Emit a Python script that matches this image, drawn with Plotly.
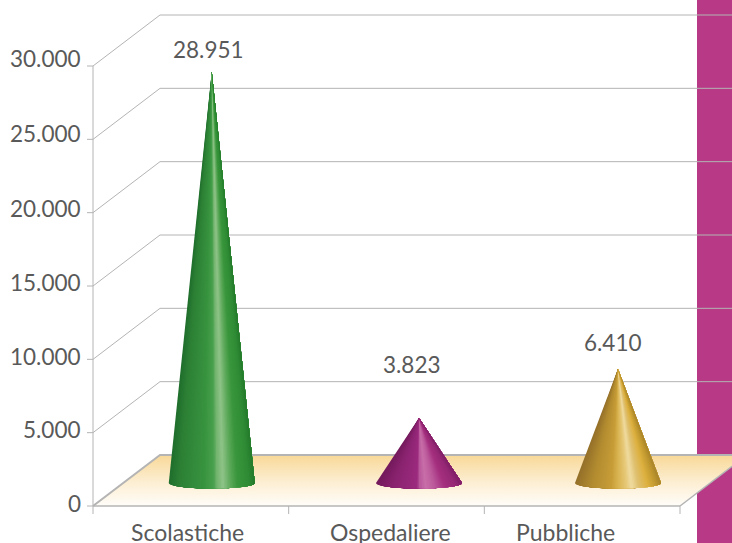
import math
import plotly.graph_objects as go

# ---- data ----
categories = ["Scolastiche", "Ospedaliere", "Pubbliche"]
value_labels = ["28.951", "3.823", "6.410"]
cone_tops = [29590, 6000, 9341]          # apex heights as read against the value axis
tick_values = [0, 5000, 10000, 15000, 20000, 25000, 30000]
tick_labels = ["0", "5.000", "10.000", "15.000", "20.000", "25.000", "30.000"]

# ---- geometry, in axis units ----
PX_X = 587 / 3          # pixels per category
PX_Y = 440 / 30000      # pixels per value unit
DEPTH_X = 67 / PX_X
DEPTH_Y = 51 / PX_Y
X_MIN, X_MAX = -0.5, 2.5
VIEW_X = [X_MIN - 93 / PX_X, X_MAX + 52 / PX_X]
VIEW_Y = [-37 / PX_Y, 506 / PX_Y]
cone_x = [0.107, 1.166, 2.183]
cone_base = 1568
cone_a = 43 / PX_X
cone_b = 5.5 / PX_Y
label_lift = [3, 3, 3, 3.5, 4.5, 6, 8]

GRID = "#B4B4B4"
TEXT = "#595959"
FONT = "Lato"

# shading stops: (position across the cone, colour)
shades = [
    [(0, "#1F6E2C"), (.12, "#2C8035"), (.4, "#38933F"), (.52, "#47A04C"), (.56, "#72B46E"),
     (.63, "#8FC388"), (.72, "#5CA95A"), (.8, "#3A963C"), (.93, "#2F8C35"), (1, "#237A2B")],
    [(0, "#741A5C"), (.2, "#8A2370"), (.48, "#9C2B7E"), (.5, "#B8559A"), (.58, "#C86EA8"),
     (.68, "#BC5A9C"), (.8, "#A5307F"), (.93, "#962876"), (1, "#7F1F66")],
    [(0, "#94702A"), (.2, "#B38C30"), (.42, "#C79D38"), (.5, "#D9B350"), (.6, "#E6C878"),
     (.66, "#EFDBA0"), (.74, "#DFC070"), (.85, "#DDB03E"), (.95, "#BE962E"), (1, "#A8842A")],
]


def mix(stops, f):
    for (p0, c0), (p1, c1) in zip(stops, stops[1:]):
        if f <= p1:
            t = (f - p0) / (p1 - p0)
            rgb = [round(int(c0[i:i + 2], 16) * (1 - t) + int(c1[i:i + 2], 16) * t) for i in (1, 3, 5)]
            return "rgb(%d,%d,%d)" % tuple(rgb)
    return stops[-1][1]


fig = go.Figure()


def poly(xs, ys, **kw):
    fig.add_trace(go.Scatter(x=xs, y=ys, mode="lines", fill="toself", line=dict(width=0, simplify=False),
                             hoverinfo="skip", showlegend=False, **kw))


def line(xs, ys, width=1):
    fig.add_trace(go.Scatter(x=xs, y=ys, mode="lines", line=dict(color=GRID, width=width),
                             hoverinfo="skip", showlegend=False))


# magenta band on the right
band_l = X_MIN + 604 / PX_X
poly([band_l, VIEW_X[1], VIEW_X[1], band_l], [VIEW_Y[0], VIEW_Y[0], VIEW_Y[1], VIEW_Y[1]], fillcolor="#B83A86")

# floor
floor_r = X_MAX + DEPTH_X
poly([X_MIN, X_MAX, VIEW_X[1], VIEW_X[1], X_MIN + DEPTH_X, X_MIN],
     [0, 0, DEPTH_Y * (VIEW_X[1] - X_MAX) / DEPTH_X, DEPTH_Y, DEPTH_Y, 0],
     fillgradient=dict(type="vertical",
                       colorscale=[[0, "#FFFDF9"], [0.5, "#FCEDCF"], [1, "#F8D897"]]))

# walls
for v in tick_values:
    line([X_MIN, X_MIN + DEPTH_X, VIEW_X[1]], [v, v + DEPTH_Y, v + DEPTH_Y],
         width=2 if v == 0 else 1)
    line([X_MIN - 6 / PX_X, X_MIN], [v, v])
line([X_MIN, X_MIN], [0, 30000])
line([X_MIN, X_MAX], [0, 0], width=1.5)
line([X_MAX, VIEW_X[1]], [0, DEPTH_Y * (VIEW_X[1] - X_MAX) / DEPTH_X], width=1.5)
for xt in [-.5, .5, 1.5, 2.5]:
    line([xt, xt], [0, -8 / PX_Y])

# cones: each slice runs apex -> remaining base arc, painted left to right
N = 56
for cx, top, stops in zip(cone_x, cone_tops, shades):
    for i in range(N):
        f = i / N
        t0 = math.acos(1 - 2 * f)
        arc = [t0 + (math.pi - t0) * k / 24 for k in range(25)]
        xs = [cx] + [cx - cone_a * math.cos(t) for t in arc] + [cx]
        ys = [top] + [cone_base - cone_b * math.sin(t) for t in arc] + [top]
        poly(xs, ys, fillcolor=mix(stops, (i + .5) / N))

annotations = []
num_font = dict(family=FONT, size=22.5, color=TEXT)
# value-axis labels
for v, lab, lift in zip(tick_values, tick_labels, label_lift):
    annotations.append(dict(x=X_MIN, y=v, text=lab, xanchor="right", yanchor="middle", font=num_font,
                            xshift=-10, yshift=lift, showarrow=False))
# category labels
for xp, lab in zip([187, 390, 565], categories):
    annotations.append(dict(x=X_MIN + (xp - 93) / PX_X, y=0, text=lab, xanchor="center", yanchor="middle",
                            font=dict(family=FONT, size=23, color=TEXT), yshift=-26, showarrow=False))
# value labels over the cones
for cx, top, lab, sx, sy in zip(cone_x, cone_tops, value_labels, [-3, -7, -5], [23, 54, 27]):
    annotations.append(dict(x=cx, y=top, text=lab, xanchor="center", yanchor="middle", font=num_font,
                            xshift=sx, yshift=sy, showarrow=False))

fig.update_layout(
    width=732, height=543, autosize=False, showlegend=False,
    margin=dict(l=0, r=0, t=0, b=0, pad=0),
    paper_bgcolor="white", plot_bgcolor="rgba(0,0,0,0)",
    font=dict(family=FONT, size=23, color=TEXT),
    annotations=annotations,
    xaxis=dict(range=VIEW_X, visible=False, fixedrange=True),
    yaxis=dict(range=VIEW_Y, visible=False, fixedrange=True),
)
fig.write_html("out.html", config=dict(displayModeBar=False),
               post_script="document.body.style.margin='0';document.body.style.overflow='hidden';")
